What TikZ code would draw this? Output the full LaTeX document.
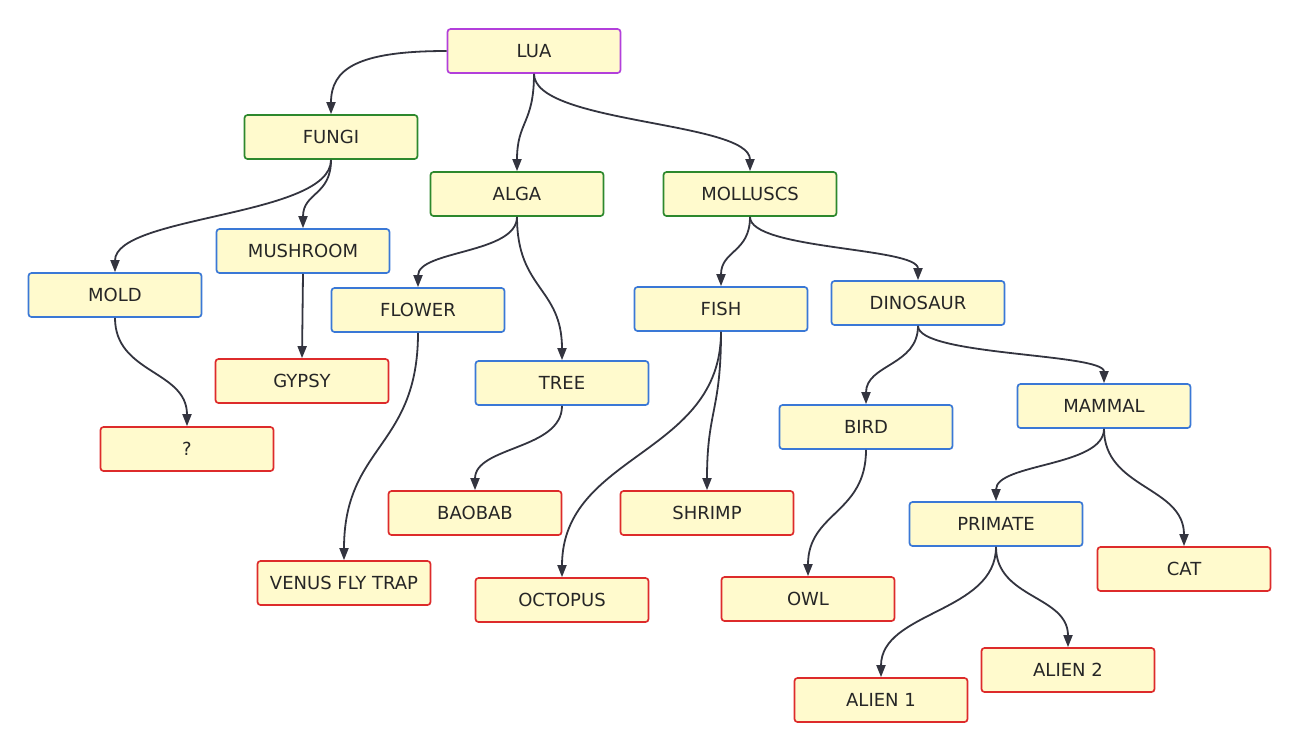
\documentclass[tikz,border=0pt]{standalone}
\usepackage{fontspec}
\setmainfont{DejaVu Sans}
\usetikzlibrary{arrows.meta}
\definecolor{boxfill}{HTML}{FFFACD}
\definecolor{cpurple}{HTML}{B23FDB}
\definecolor{cgreen}{HTML}{2D882D}
\definecolor{cblue}{HTML}{3A78D6}
\definecolor{cred}{HTML}{DD2B2B}
\definecolor{cline}{HTML}{33343F}
\tikzset{
  box/.style={draw, fill=boxfill, line width=1.7pt, rounded corners=3pt,
    minimum width=173pt, minimum height=44pt, inner sep=0pt,
    font=\fontsize{18}{20}\selectfont, text=black!85},
  rootbox/.style={box, draw=cpurple},
  gbox/.style={box, draw=cgreen},
  bbox/.style={box, draw=cblue},
  rbox/.style={box, draw=cred},
  conn/.style={draw=cline, line width=1.8pt, -{Triangle[length=12pt,width=9pt]}}
}
\newcommand\link[3]{\draw[conn] (#1.south) .. controls +(0,#3) and +(0,-#3) .. (#2.north);}
\begin{document}
\begin{tikzpicture}[x=1pt,y=-1pt]
\useasboundingbox (0,0) rectangle (1300,753);
\node[rootbox] (lua) at (534,51) {LUA};
\node[gbox] (fungi) at (331,137) {FUNGI};
\node[gbox] (alga) at (517,194) {ALGA};
\node[gbox] (moll) at (750,194) {MOLLUSCS};
\node[bbox] (mush) at (303,251) {MUSHROOM};
\node[bbox] (mold) at (115,295) {MOLD};
\node[bbox] (flower) at (418,310) {FLOWER};
\node[bbox] (fish) at (721,309) {FISH};
\node[bbox] (dino) at (918,303) {DINOSAUR};
\node[rbox] (gypsy) at (302,381) {GYPSY};
\node[bbox] (tree) at (562,383) {TREE};
\node[bbox] (bird) at (866,427) {BIRD};
\node[bbox] (mammal) at (1104,406) {MAMMAL};
\node[rbox] (q) at (187,449) {?};
\node[rbox] (baobab) at (475,513) {BAOBAB};
\node[rbox] (shrimp) at (707,513) {SHRIMP};
\node[bbox] (primate) at (996,524) {PRIMATE};
\node[rbox] (cat) at (1184,569) {CAT};
\node[rbox] (venus) at (344,583) {VENUS FLY TRAP};
\node[rbox] (octo) at (562,600) {OCTOPUS};
\node[rbox] (owl) at (808,599) {OWL};
\node[rbox] (alien2) at (1068,670) {ALIEN 2};
\node[rbox] (alien1) at (881,700) {ALIEN 1};

\draw[conn] (lua.west) .. controls +(-90,0) and +(0,-45) .. (fungi.north);
\link{lua}{alga}{50}
\link{lua}{moll}{50}
\link{fungi}{mold}{57}
\link{fungi}{mush}{36}
\link{alga}{flower}{37}
\link{alga}{tree}{73}
\link{moll}{fish}{36}
\link{moll}{dino}{33}
\draw[conn] (mush.south) -- (gypsy.north);
\link{mold}{q}{56}
\link{flower}{venus}{115}
\link{tree}{baobab}{44}
\link{fish}{octo}{124}
\link{fish}{shrimp}{80}
\link{dino}{bird}{40}
\link{dino}{mammal}{30}
\link{bird}{owl}{64}
\link{mammal}{primate}{38}
\link{mammal}{cat}{60}
\link{primate}{alien1}{66}
\link{primate}{alien2}{52}
\end{tikzpicture}
\end{document}
